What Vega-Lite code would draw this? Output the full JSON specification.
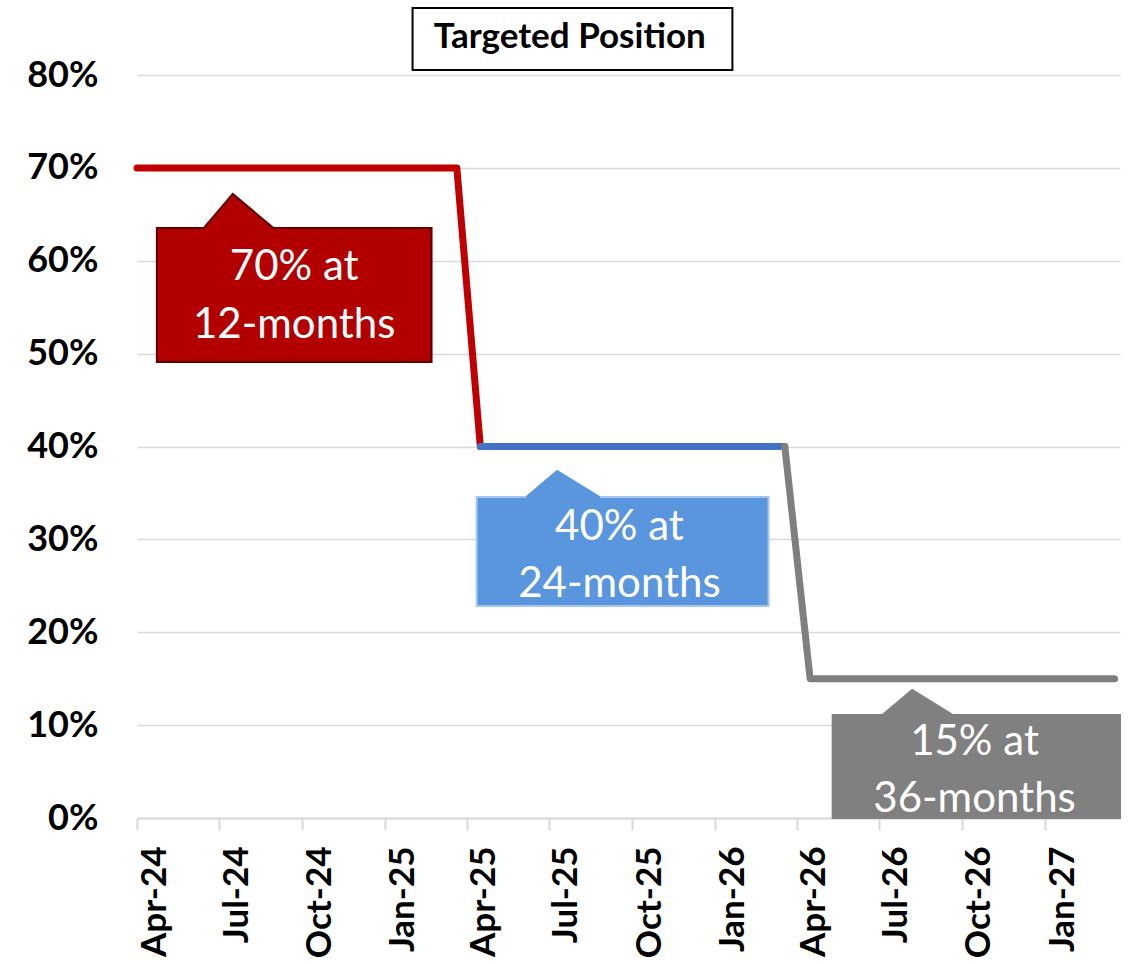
{
  "$schema": "https://vega.github.io/schema/vega-lite/v6.json",
  "width": 983,
  "height": 743,
  "autosize": {"type": "none"},
  "padding": {"left": 137, "top": 75, "right": 13, "bottom": 146},
  "background": "white",
  "config": {"view": {"stroke": null}},
  "resolve": {"scale": {"fill": "independent", "stroke": "independent"}},
  "layer": [
    {
      "data": {"values": [
        {"series": "12m", "date": "2024-04-01", "value": 0.70},
        {"series": "12m", "date": "2025-03-21", "value": 0.70},
        {"series": "12m", "date": "2025-04-16", "value": 0.40},
        {"series": "24m", "date": "2025-04-16", "value": 0.40},
        {"series": "24m", "date": "2026-03-19", "value": 0.40},
        {"series": "36m", "date": "2026-03-19", "value": 0.40},
        {"series": "36m", "date": "2026-04-16", "value": 0.15},
        {"series": "36m", "date": "2027-03-19", "value": 0.15}
      ]},
      "mark": {"type": "line", "strokeWidth": 7, "strokeCap": "round", "strokeJoin": "round"},
      "encoding": {
        "x": {
          "field": "date", "type": "temporal",
          "scale": {"type": "utc", "nice": false, "domain": [{"year": 2024, "month": 4, "date": 1, "utc": true}, {"year": 2027, "month": 3, "date": 25, "utc": true}]},
          "axis": {
            "title": null, "format": "%b-%y", "tickCount": {"interval": "month", "step": 3},
            "grid": false, "domainColor": "#D9D9D9", "domainWidth": 2,
            "tickColor": "#D9D9D9", "tickWidth": 2, "tickSize": 12,
            "labelAngle": -90, "labelAlign": "right", "labelBaseline": "top",
            "labelPadding": 16, "labelFlush": false, "labelOverlap": false, "labelBound": false,
            "labelFont": "Lato", "labelFontWeight": "bold", "labelFontSize": 35, "labelColor": "black"
          }
        },
        "y": {
          "field": "value", "type": "quantitative",
          "scale": {"domain": [0, 0.8], "nice": false, "zero": true},
          "axis": {
            "title": null, "format": ".0%", "values": [0, 0.1, 0.2, 0.3, 0.4, 0.5, 0.6, 0.7, 0.8],
            "domain": false, "ticks": false, "grid": true, "gridColor": "#D9D9D9", "gridWidth": 1.5,
            "labelPadding": 39, "labelFont": "Lato", "labelFontWeight": "bold", "labelFontSize": 36, "labelColor": "black"
          }
        },
        "stroke": {"field": "series", "type": "nominal", "legend": null,
          "scale": {"domain": ["12m", "24m", "36m"], "range": ["#C00000", "#4472C4", "#7F7F7F"]}},
        "order": {"field": "date", "type": "temporal"}
      }
    },
    {
      "data": {"values": [
        {"callout": "12m", "start": "2024-04-23", "end": "2025-02-21", "top": 0.6353, "bottom": 0.491},
        {"callout": "24m", "start": "2025-04-12", "end": "2026-03-01", "top": 0.3456, "bottom": 0.2283},
        {"callout": "36m", "start": "2026-05-11", "end": "2027-03-25", "top": 0.1109, "bottom": 0.0}
      ]},
      "mark": {"type": "rect", "strokeWidth": 2},
      "encoding": {
        "x": {"field": "start", "type": "temporal"},
        "x2": {"field": "end"},
        "y": {"field": "top", "type": "quantitative"},
        "y2": {"field": "bottom"},
        "fill": {"field": "callout", "type": "nominal", "legend": null,
          "scale": {"domain": ["12m", "24m", "36m"], "range": ["#B20000", "#5A96DE", "#808080"]}},
        "stroke": {"field": "callout", "type": "nominal", "legend": null,
          "scale": {"domain": ["12m", "24m", "36m"], "range": ["#5C0000", "#A4C6EE", "#808080"]}}
      }
    },
    {
      "data": {"values": [
        {"callout": "12m", "date": "2024-06-14", "value": 0.6353, "base": 0.631},
        {"callout": "12m", "date": "2024-07-16", "value": 0.6719, "base": 0.631},
        {"callout": "12m", "date": "2024-08-30", "value": 0.6353, "base": 0.631},
        {"callout": "24m", "date": "2025-06-06", "value": 0.3456, "base": 0.341},
        {"callout": "24m", "date": "2025-07-10", "value": 0.3736, "base": 0.341},
        {"callout": "24m", "date": "2025-08-26", "value": 0.3456, "base": 0.341},
        {"callout": "36m", "date": "2026-07-05", "value": 0.1109, "base": 0.1066},
        {"callout": "36m", "date": "2026-08-07", "value": 0.1378, "base": 0.1066},
        {"callout": "36m", "date": "2026-09-21", "value": 0.1109, "base": 0.1066}
      ]},
      "layer": [
        {
          "mark": {"type": "area", "interpolate": "linear"},
          "encoding": {
            "x": {"field": "date", "type": "temporal"},
            "y": {"field": "value", "type": "quantitative"},
            "y2": {"field": "base"},
            "fill": {"field": "callout", "type": "nominal", "legend": null,
              "scale": {"domain": ["12m", "24m", "36m"], "range": ["#B20000", "#5A96DE", "#808080"]}}
          }
        },
        {
          "mark": {"type": "line", "strokeWidth": 2, "strokeJoin": "miter"},
          "encoding": {
            "x": {"field": "date", "type": "temporal"},
            "y": {"field": "value", "type": "quantitative"},
            "stroke": {"field": "callout", "type": "nominal", "legend": null,
              "scale": {"domain": ["12m", "24m", "36m"], "range": ["#5C0000", "#5A96DE", "#808080"]}}
          }
        }
      ]
    },
    {
      "data": {"values": [
        {"date": "2024-09-22", "value": 0.5792, "text": "70% at"},
        {"date": "2024-09-22", "value": 0.5167, "text": "12-months"},
        {"date": "2025-09-17", "value": 0.2993, "text": "40% at"},
        {"date": "2025-09-17", "value": 0.2380, "text": "24-months"},
        {"date": "2026-10-15", "value": 0.0678, "text": "15% at"},
        {"date": "2026-10-15", "value": 0.0065, "text": "36-months"}
      ]},
      "mark": {"type": "text", "font": "Lato", "fontSize": 42, "color": "white", "align": "center", "baseline": "alphabetic"},
      "encoding": {
        "x": {"field": "date", "type": "temporal"},
        "y": {"field": "value", "type": "quantitative"},
        "text": {"field": "text", "type": "nominal"}
      }
    },
    {
      "data": {"values": [
        {"start": "2025-01-31", "end": "2026-01-20", "top": 0.8721, "bottom": 0.8054}
      ]},
      "mark": {"type": "rect", "fill": "white", "stroke": "black", "strokeWidth": 2, "clip": false},
      "encoding": {
        "x": {"field": "start", "type": "temporal"},
        "x2": {"field": "end"},
        "y": {"field": "top", "type": "quantitative"},
        "y2": {"field": "bottom"}
      }
    },
    {
      "data": {"values": [
        {"date": "2025-07-24", "value": 0.8291, "text": "Targeted Position"}
      ]},
      "mark": {"type": "text", "font": "Lato", "fontSize": 35, "fontWeight": "bold", "color": "black", "align": "center", "baseline": "alphabetic", "clip": false},
      "encoding": {
        "x": {"field": "date", "type": "temporal"},
        "y": {"field": "value", "type": "quantitative"},
        "text": {"field": "text", "type": "nominal"}
      }
    }
  ]
}
